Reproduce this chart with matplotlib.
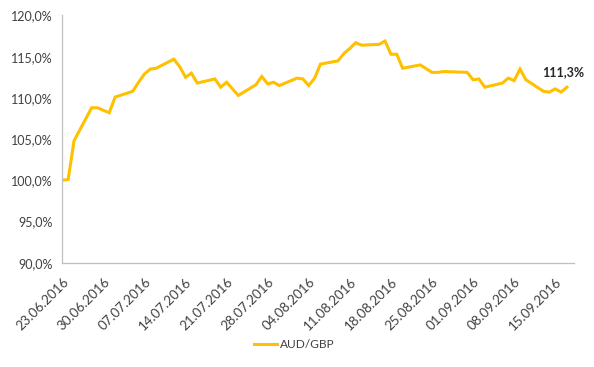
import matplotlib
matplotlib.use("Agg")
import matplotlib.pyplot as plt
import numpy as np
import pandas as pd

# ---- data ----
start_date = "2016-06-23"
day_offsets = [0, 1, 2, 5, 6, 8, 9, 12, 13, 14, 15, 16, 19, 20, 21, 22, 23,
               26, 27, 28, 29, 30, 33, 34, 35, 36, 37, 40, 41, 42, 43, 44,
               47, 48, 49, 50, 51, 54, 55, 56, 57, 58, 61, 63, 64, 65, 69,
               70, 71, 72, 75, 76, 77, 78, 79, 82, 83, 84, 85, 86]
aud_gbp = [100.0, 100.1, 104.8, 108.8, 108.8, 108.2, 110.1, 110.8, 111.9, 112.9,
           113.5, 113.6, 114.7, 113.8, 112.5, 113.0, 111.8, 112.3, 111.3, 111.9,
           111.1, 110.3, 111.6, 112.6, 111.7, 111.9, 111.5, 112.4, 112.3, 111.5,
           112.4, 114.1, 114.5, 115.4, 116.0, 116.7, 116.4, 116.5, 116.9, 115.3,
           115.3, 113.6, 114.0, 113.1, 113.1, 113.2, 113.1, 112.2, 112.3, 111.3,
           111.8, 112.4, 112.1, 113.5, 112.2, 110.8, 110.7, 111.1, 110.7, 111.3]
series_name = "AUD/GBP"
y_ticks = [90, 95, 100, 105, 110, 115, 120]
tick_every_days = 7
n_ticks = 13

dates = pd.to_datetime(start_date) + pd.to_timedelta(day_offsets, unit="D")
tick_dates = pd.to_datetime(start_date) + pd.to_timedelta(
    [tick_every_days * i for i in range(n_ticks)], unit="D")

# ---- plot ----
W, H = 594, 367
fig = plt.figure(figsize=(W / 100, H / 100), dpi=100)
ax = fig.add_axes([62 / W, 1 - 262.7 / H, (574 - 62) / W, (262.7 - 15.5) / H])

text_color = "#404040"
font = "Lato"

ax.plot(dates, aud_gbp, color="#FFC000", lw=2.2, solid_joinstyle="miter",
        label=series_name)

t0 = pd.to_datetime(start_date)
ax.set_xlim(t0 - pd.Timedelta(days=0.05), t0 + pd.Timedelta(days=87.2))
ax.set_ylim(90, 120)
ax.set_yticks(y_ticks)
ax.set_yticklabels([f"{v:.1f}%".replace(".", ",") for v in y_ticks],
                   fontsize=9, color=text_color, family=font)
ax.set_xticks(tick_dates)
ax.set_xticklabels([d.strftime("%d.%m.%Y") for d in tick_dates],
                   rotation=45, ha="right", rotation_mode="anchor",
                   fontsize=9.6, color=text_color, family=font)
ax.tick_params(axis="both", length=0)
ax.tick_params(axis="y", pad=7)
ax.tick_params(axis="x", pad=9)

for s in ["top", "right"]:
    ax.spines[s].set_visible(False)
for s in ["left", "bottom"]:
    ax.spines[s].set_color("#BFBFBF")
    ax.spines[s].set_linewidth(0.9)

# end label
ax.annotate(f"{aud_gbp[-1]:.1f}%".replace(".", ","),
            xy=(dates[-1], aud_gbp[-1]), xytext=(-3, 11),
            textcoords="offset points", ha="center", va="center",
            fontsize=9, fontweight="bold", color="#262626", family=font)

leg = fig.legend(loc="center", bbox_to_anchor=(294 / W, 1 - 345 / H),
                 frameon=False, handlelength=1.9, handletextpad=0.25,
                 prop={"family": font, "size": 8.6})
for t in leg.get_texts():
    t.set_color(text_color)

fig.savefig("out.png", dpi=100)
